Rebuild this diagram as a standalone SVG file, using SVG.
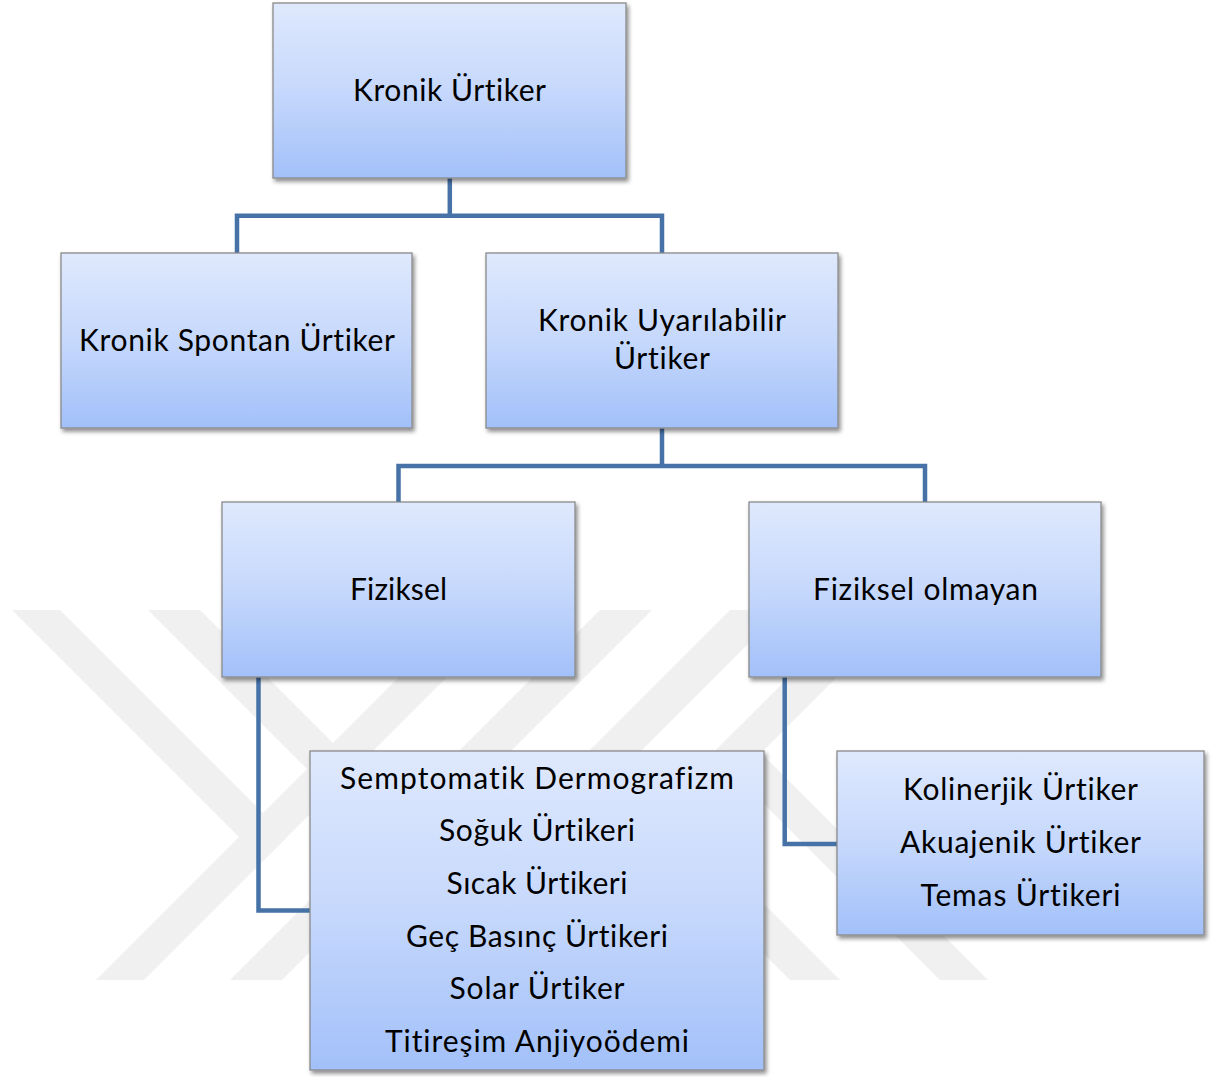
<svg xmlns="http://www.w3.org/2000/svg" width="1225" height="1077" viewBox="0 0 1225 1077">
<defs>
<linearGradient id="g" x1="0" y1="0" x2="0" y2="1">
<stop offset="0" stop-color="#dfe9fd"/>
<stop offset="0.5" stop-color="#c6d8fc"/>
<stop offset="1" stop-color="#a2c0f9"/>
</linearGradient>
<filter id="sh" x="-5%" y="-5%" width="112%" height="115%">
<feDropShadow dx="2" dy="3" stdDeviation="2" flood-color="#000" flood-opacity="0.45"/>
</filter>
</defs>
<style>
.box{fill:url(#g);stroke:#8a8a8a;stroke-width:1.3;filter:url(#sh)}
.t{font-family:Lato,"Open Sans","Liberation Sans",sans-serif;font-size:30px;fill:#000;text-anchor:middle;font-variant-ligatures:none;font-feature-settings:"liga" 0,"clig" 0}
.c{fill:none;stroke:#4672a8;stroke-width:4.5;stroke-linejoin:miter;stroke-linecap:butt}
.wm{fill:#f0f0f0}
</style>
<rect width="1225" height="1077" fill="#fff"/>
<g id="watermark">
<polygon class="wm" points="12,610 60,610 287,837 263,861"/>
<polygon class="wm" points="148,610 200,610 357,767 331,793"/>
<polygon class="wm" points="466,610 514,610 144,980 96,980"/>
<polygon class="wm" points="600,610 652,610 282,980 230,980"/>
<polygon class="wm" points="730,610 782,610 412,980 360,980"/>
<polygon class="wm" points="856,610 904,610 534,980 486,980"/>
<polygon class="wm" points="713,753 737,729 988,980 940,980"/>
<polygon class="wm" points="638,828 663,803 840,980 790,980"/>
</g>
<g id="connectors">
<polyline class="c" points="449.8,178 449.8,215.8"/>
<polyline class="c" points="237,253 237,215.8 662,215.8 662,253"/>
<polyline class="c" points="662,428 662,466"/>
<polyline class="c" points="398.5,502 398.5,466 925,466 925,502"/>
<polyline class="c" points="258.5,677 258.5,910.5 310,910.5"/>
<polyline class="c" points="784.7,677 784.7,844 837,844"/>
</g>
<g id="n1">
<rect class="box" x="273" y="3" width="353" height="175"/>
<text class="t" x="449.5" y="101" textLength="193" lengthAdjust="spacing">Kronik Ürtiker</text>
</g>
<g id="n2">
<rect class="box" x="61" y="253" width="351" height="175"/>
<text class="t" x="237" y="351" textLength="316" lengthAdjust="spacing">Kronik Spontan Ürtiker</text>
</g>
<g id="n3">
<rect class="box" x="486" y="253" width="352" height="175"/>
<text class="t" x="662" y="331" textLength="248" lengthAdjust="spacing">Kronik Uyarılabilir</text>
<text class="t" x="662" y="369" textLength="96" lengthAdjust="spacing">Ürtiker</text>
</g>
<g id="n4">
<rect class="box" x="222" y="502" width="353" height="175"/>
<text class="t" x="398.5" y="600" textLength="97" lengthAdjust="spacing">Fiziksel</text>
</g>
<g id="n5">
<rect class="box" x="749" y="502" width="352" height="175"/>
<text class="t" x="925.5" y="600" textLength="225" lengthAdjust="spacing">Fiziksel olmayan</text>
</g>
<g id="n6">
<rect class="box" x="310" y="751" width="454" height="319"/>
<text class="t" x="537" y="789" textLength="394" lengthAdjust="spacing">Semptomatik Dermografizm</text>
<text class="t" x="537" y="841" textLength="196" lengthAdjust="spacing">Soğuk Ürtikeri</text>
<text class="t" x="537" y="894" textLength="181" lengthAdjust="spacing">Sıcak Ürtikeri</text>
<text class="t" x="537" y="947" textLength="262" lengthAdjust="spacing">Geç Basınç Ürtikeri</text>
<text class="t" x="537" y="999" textLength="175" lengthAdjust="spacing">Solar Ürtiker</text>
<text class="t" x="537" y="1052" textLength="304" lengthAdjust="spacing">Titireşim Anjiyoödemi</text>
</g>
<g id="n7">
<rect class="box" x="837" y="751" width="367" height="184"/>
<text class="t" x="1020.5" y="800" textLength="235" lengthAdjust="spacing">Kolinerjik Ürtiker</text>
<text class="t" x="1020.5" y="853" textLength="241" lengthAdjust="spacing">Akuajenik Ürtiker</text>
<text class="t" x="1020.5" y="906" textLength="200" lengthAdjust="spacing">Temas Ürtikeri</text>
</g>
</svg>
